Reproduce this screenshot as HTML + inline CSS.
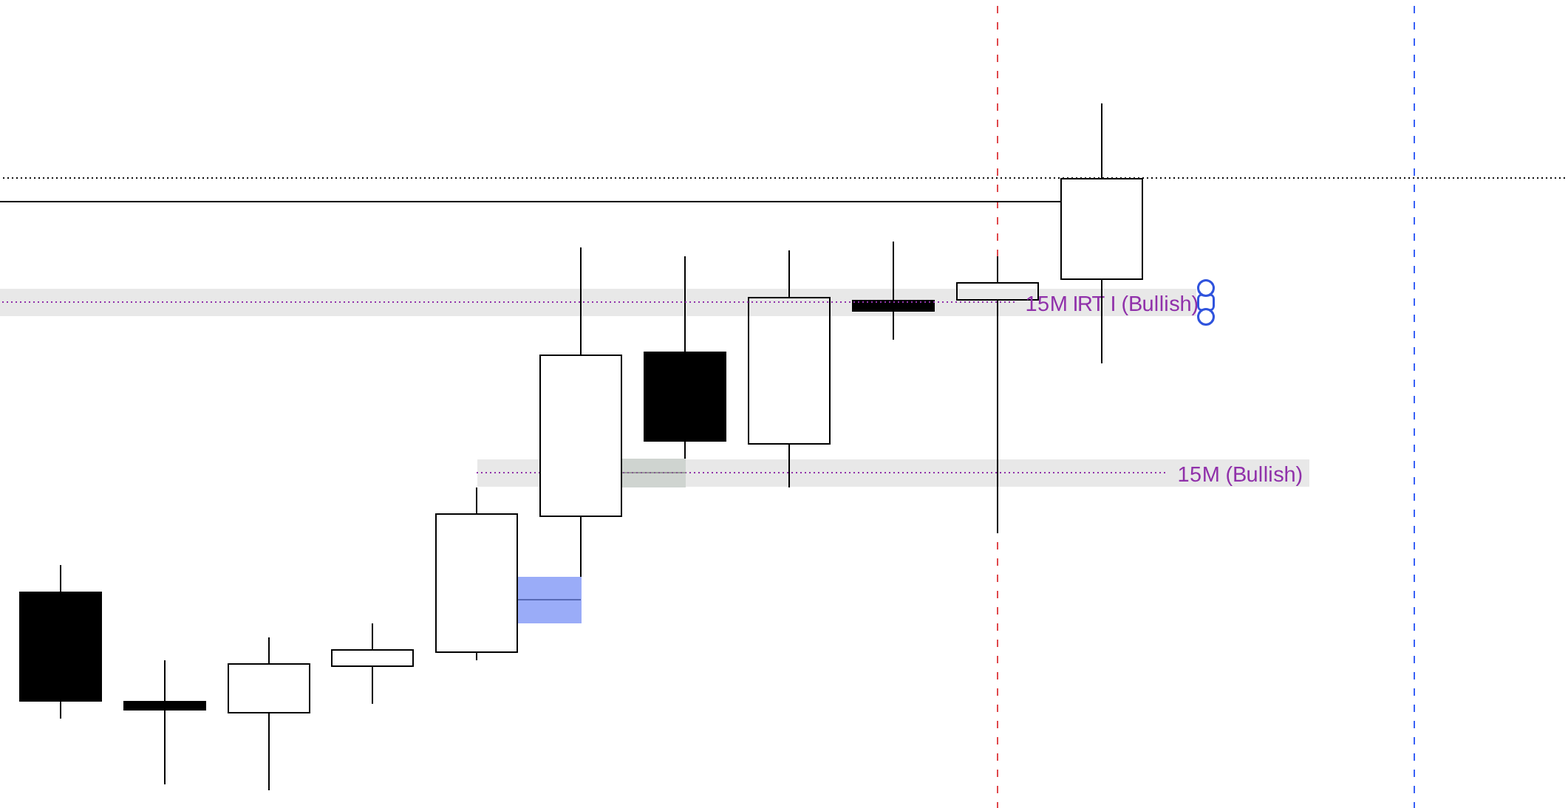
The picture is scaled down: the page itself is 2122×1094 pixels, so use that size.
<!DOCTYPE html>
<html lang="en"><head><meta charset="utf-8"><title>Chart</title>
<style>html,body{margin:0;padding:0;background:#fff;width:2122px;height:1094px}svg{display:block}text{font-family:"Liberation Sans",Arial,Helvetica,sans-serif;white-space:pre}</style>
</head><body>
<svg width="2122" height="1094" viewBox="0 0 2122 1094" shape-rendering="crispEdges">
<rect x="0" y="0" width="2122" height="1094" fill="#fff"/>
<!-- vertical session lines -->
<line x1="1350" y1="-14" x2="1350" y2="1094" stroke="#df484c" stroke-width="2" stroke-dasharray="10 12"/>
<line x1="1914" y1="-14" x2="1914" y2="1094" stroke="#3861f6" stroke-width="2" stroke-dasharray="10 12"/>
<!-- lower zone (behind candles) -->
<rect x="646" y="622" width="1126" height="37" fill="#e8e8e8"/>
<line x1="645" y1="640" x2="1578" y2="640" stroke="#9031aa" stroke-width="2" stroke-dasharray="2 4"/>
<!-- fair value gap boxes -->
<rect x="842" y="621" width="86" height="39" fill="#cfd4d0"/>
<rect x="842" y="639" width="86" height="2" fill="#969b96"/>
<line x1="843" y1="640" x2="927" y2="640" stroke="#855b91" stroke-width="2" stroke-dasharray="2 4"/>
<rect x="701" y="781" width="86" height="63" fill="#9aacf8"/>
<rect x="701" y="811" width="85" height="2" fill="#5769b5"/>
<!-- horizontal levels -->
<line x1="4" y1="241" x2="2119" y2="241" stroke="#000" stroke-width="2" stroke-dasharray="2 4"/>
<rect x="0" y="272" width="1436" height="2" fill="#000"/>
<!-- candles -->
<rect x="81" y="765" width="2" height="208" fill="#000"/><rect x="26" y="801" width="112" height="149" fill="#000"/>
<rect x="222" y="894" width="2" height="168" fill="#000"/><rect x="167" y="949" width="112" height="13" fill="#000"/>
<rect x="363" y="863" width="2" height="207" fill="#000"/><rect x="309" y="899" width="110" height="66" fill="#fff" stroke="#000" stroke-width="2"/>
<rect x="503" y="844" width="2" height="109" fill="#000"/><rect x="449" y="880" width="110" height="22" fill="#fff" stroke="#000" stroke-width="2"/>
<rect x="644" y="660" width="2" height="234" fill="#000"/><rect x="590" y="696" width="110" height="187" fill="#fff" stroke="#000" stroke-width="2"/>
<rect x="785" y="335" width="2" height="446" fill="#000"/><rect x="731" y="481" width="110" height="218" fill="#fff" stroke="#000" stroke-width="2"/>
<rect x="926" y="347" width="2" height="274" fill="#000"/><rect x="871" y="476" width="112" height="122" fill="#000"/>
<rect x="1067" y="339" width="2" height="321" fill="#000"/><rect x="1013" y="403" width="110" height="198" fill="#fff" stroke="#000" stroke-width="2"/>
<rect x="1208" y="327" width="2" height="133" fill="#000"/><rect x="1153" y="406" width="112" height="16" fill="#000"/>
<rect x="1349" y="347" width="2" height="375" fill="#000"/><rect x="1295" y="383" width="110" height="23" fill="#fff" stroke="#000" stroke-width="2"/>
<!-- upper zone (over candles) -->
<rect x="0" y="391" width="1619" height="37" fill="#000" fill-opacity="0.09"/>
<line x1="3" y1="409" x2="1374" y2="409" stroke="#9031aa" stroke-width="2" stroke-dasharray="2 4"/>
<!-- labels -->
<g style="will-change:transform" shape-rendering="auto" text-rendering="geometricPrecision">
<text x="1387.6 1403.9 1420.8 1445 1451.5 1458.1 1477.5 1495 1502.4 1510 1517.4 1527.05 1545.5 1561.7 1568.7 1575.2 1582.2 1596.5 1612.6" y="421" font-size="29" fill="#9031aa" id="t1">15M IRT I (Bullish)</text>
<text x="1593.6 1610 1626.8 1651 1658.4 1668.05 1686.5 1702.7 1709.7 1716.2 1723.2 1737.5 1753.6" y="652" font-size="29" fill="#9031aa" id="t2">15M (Bullish)</text>
</g>
<!-- last candle -->
<rect x="1490" y="140" width="2" height="352" fill="#000"/><rect x="1436" y="242" width="110" height="136" fill="#fff" stroke="#000" stroke-width="2"/>
<!-- selection anchors -->
<g shape-rendering="geometricPrecision" fill="#fff" stroke="#2f53dd" stroke-width="3">
<rect x="1621.5" y="399" width="21" height="21" rx="5.5" ry="5.5"/>
<circle cx="1632" cy="390" r="10.5"/>
<circle cx="1632" cy="429" r="10.5"/>
</g>
</svg>
</body></html>
